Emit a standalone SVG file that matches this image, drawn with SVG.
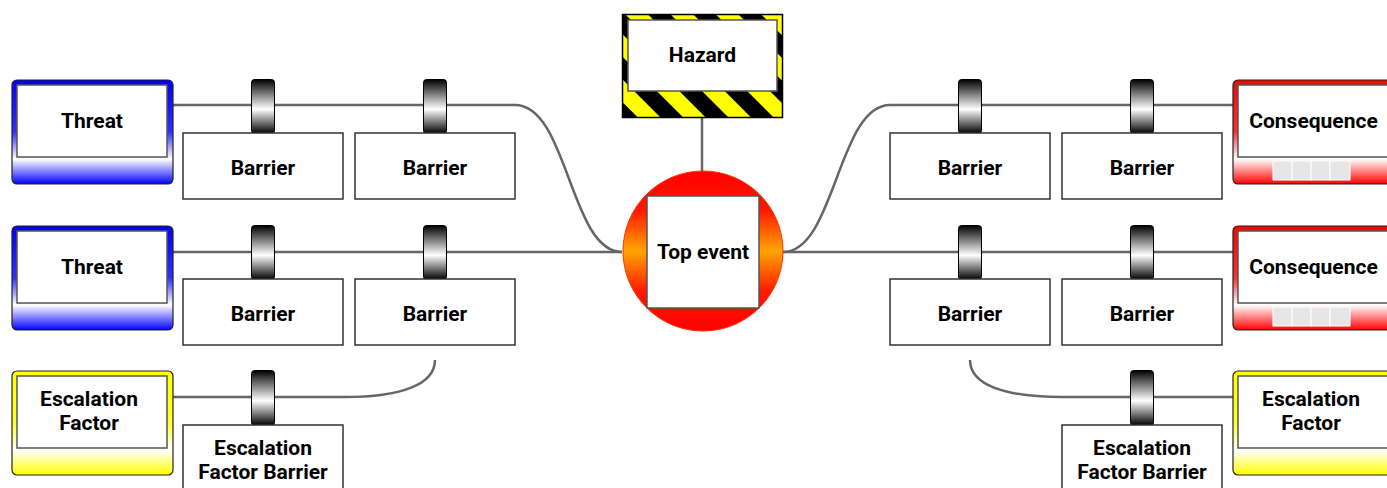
<svg xmlns="http://www.w3.org/2000/svg" width="1387" height="488" viewBox="0 0 1387 488">
<defs>
<linearGradient id="gBlue" x1="0" y1="0" x2="0" y2="1">
<stop offset="0" stop-color="#0000ff"/><stop offset="0.5" stop-color="#3030ff"/><stop offset="0.76" stop-color="#ffffff"/><stop offset="1" stop-color="#0000ff"/>
</linearGradient>
<linearGradient id="gRed" x1="0" y1="0" x2="0" y2="1">
<stop offset="0" stop-color="#ff0000"/><stop offset="0.5" stop-color="#ff3030"/><stop offset="0.76" stop-color="#ffffff"/><stop offset="1" stop-color="#ff0000"/>
</linearGradient>
<linearGradient id="gYellow" x1="0" y1="0" x2="0" y2="1">
<stop offset="0" stop-color="#ffff00"/><stop offset="0.5" stop-color="#ffff30"/><stop offset="0.76" stop-color="#ffffff"/><stop offset="1" stop-color="#ffff00"/>
</linearGradient>
<linearGradient id="gTop" x1="0" y1="0" x2="0" y2="1">
<stop offset="0" stop-color="#ff0000"/><stop offset="0.25" stop-color="#ff1a00"/><stop offset="0.5" stop-color="#ffa500"/><stop offset="0.75" stop-color="#ff1a00"/><stop offset="1" stop-color="#ff0000"/>
</linearGradient>
<linearGradient id="gKnob" x1="0" y1="0" x2="0" y2="1">
<stop offset="0" stop-color="#000000"/><stop offset="0.55" stop-color="#ffffff"/><stop offset="1" stop-color="#000000"/>
</linearGradient>
<pattern id="stripes" patternUnits="userSpaceOnUse" width="32" height="32" patternTransform="rotate(-45)">
<rect width="32" height="32" fill="#ffff00"/><rect width="16" height="32" fill="#000000"/>
</pattern>
<style>
.ln{fill:none;stroke:#666;stroke-width:2.5}
.box{fill:#fff;stroke:#333;stroke-width:1.5}
.inner{fill:#fff;stroke:#555;stroke-width:1.5}
.knob{fill:url(#gKnob);stroke:#000;stroke-width:1}
.t{font-family:Roboto,"Liberation Sans",sans-serif;font-weight:bold;font-size:21px;text-anchor:middle;fill:#000}
</style>
</defs>
<rect width="1387" height="488" fill="#fff"/>
<g id="connectors">
<path class="ln" d="M173 105 H515 C568 105 570 252 622 252"/>
<path class="ln" d="M173 252 H622"/>
<path class="ln" d="M173 397 H345 C400 397 435 385 435 360"/>
<path class="ln" d="M783 252 C835 252 838 105 890 105 H1233"/>
<path class="ln" d="M783 252 H1233"/>
<path class="ln" d="M970 360 C970 385 1005 397 1062 397 H1233"/>
<path class="ln" d="M702 118 V172"/>
</g>
<g id="hazard">
<rect x="622.5" y="14.5" width="160" height="103" fill="url(#stripes)" stroke="#000" stroke-width="1.5"/>
<rect x="628" y="20" width="149" height="71" class="inner"/>
<text class="t" x="702.5" y="62">Hazard</text>
</g>
<g id="topevent">
<circle cx="703" cy="251" r="80" fill="url(#gTop)" stroke="#ff3300" stroke-width="1"/>
<rect x="647" y="196" width="112" height="112" class="inner"/>
<text class="t" x="703" y="258.5">Top event</text>
</g>
<g id="threat1">
<rect x="12" y="80" width="161" height="104" rx="5" fill="url(#gBlue)" stroke="#222" stroke-width="1.2"/>
<rect x="17" y="85" width="150" height="72" class="inner"/>
<text class="t" x="92" y="127.5">Threat</text>
</g>
<g id="threat2">
<rect x="12" y="226" width="161" height="104" rx="5" fill="url(#gBlue)" stroke="#222" stroke-width="1.2"/>
<rect x="17" y="231" width="150" height="72" class="inner"/>
<text class="t" x="92" y="273.5">Threat</text>
</g>
<g id="escalation1">
<rect x="12" y="371" width="161" height="104" rx="5" fill="url(#gYellow)" stroke="#222" stroke-width="1.2"/>
<rect x="17" y="376" width="150" height="72" class="inner"/>
<text class="t" x="89" y="406">Escalation</text>
<text class="t" x="89" y="430">Factor</text>
</g>
<g id="consequence1">
<rect x="1233" y="80" width="170" height="104" rx="5" fill="url(#gRed)" stroke="#222" stroke-width="1.2"/>
<rect x="1238" y="85" width="160" height="72" class="inner"/>
<text class="t" x="1313.5" y="127.5">Consequence</text>
<g fill="#e6e6e6" stroke="#fff" stroke-width="1"><rect x="1273" y="161" width="19" height="19"/><rect x="1292" y="161" width="19" height="19"/><rect x="1311" y="161" width="19" height="19"/><rect x="1330" y="161" width="20" height="19"/></g>
</g>
<g id="consequence2">
<rect x="1233" y="226" width="170" height="104" rx="5" fill="url(#gRed)" stroke="#222" stroke-width="1.2"/>
<rect x="1238" y="231" width="160" height="72" class="inner"/>
<text class="t" x="1313.5" y="273.5">Consequence</text>
<g fill="#e6e6e6" stroke="#fff" stroke-width="1"><rect x="1273" y="307" width="19" height="19"/><rect x="1292" y="307" width="19" height="19"/><rect x="1311" y="307" width="19" height="19"/><rect x="1330" y="307" width="20" height="19"/></g>
</g>
<g id="escalation2">
<rect x="1233" y="371" width="170" height="104" rx="5" fill="url(#gYellow)" stroke="#222" stroke-width="1.2"/>
<rect x="1238" y="376" width="160" height="72" class="inner"/>
<text class="t" x="1311" y="406">Escalation</text>
<text class="t" x="1311" y="430">Factor</text>
</g>
<g id="barrierL1a"><rect class="knob" x="251.5" y="79.5" width="23" height="54" rx="3"/><rect class="box" x="183" y="133" width="160" height="66"/><text class="t" x="263" y="175">Barrier</text></g>
<g id="barrierL1b"><rect class="knob" x="423.5" y="79.5" width="23" height="54" rx="3"/><rect class="box" x="355" y="133" width="160" height="66"/><text class="t" x="435" y="175">Barrier</text></g>
<g id="barrierL2a"><rect class="knob" x="251.5" y="225.5" width="23" height="54" rx="3"/><rect class="box" x="183" y="279" width="160" height="66"/><text class="t" x="263" y="321">Barrier</text></g>
<g id="barrierL2b"><rect class="knob" x="423.5" y="225.5" width="23" height="54" rx="3"/><rect class="box" x="355" y="279" width="160" height="66"/><text class="t" x="435" y="321">Barrier</text></g>
<g id="barrierL3"><rect class="knob" x="251.5" y="370.5" width="23" height="55" rx="3"/><rect class="box" x="183" y="425" width="160" height="70"/><text class="t" x="263" y="455">Escalation</text><text class="t" x="263" y="479">Factor Barrier</text></g>
<g id="barrierR1a"><rect class="knob" x="958.5" y="79.5" width="23" height="54" rx="3"/><rect class="box" x="890" y="133" width="160" height="66"/><text class="t" x="970" y="175">Barrier</text></g>
<g id="barrierR1b"><rect class="knob" x="1130.5" y="79.5" width="23" height="54" rx="3"/><rect class="box" x="1062" y="133" width="160" height="66"/><text class="t" x="1142" y="175">Barrier</text></g>
<g id="barrierR2a"><rect class="knob" x="958.5" y="225.5" width="23" height="54" rx="3"/><rect class="box" x="890" y="279" width="160" height="66"/><text class="t" x="970" y="321">Barrier</text></g>
<g id="barrierR2b"><rect class="knob" x="1130.5" y="225.5" width="23" height="54" rx="3"/><rect class="box" x="1062" y="279" width="160" height="66"/><text class="t" x="1142" y="321">Barrier</text></g>
<g id="barrierR3"><rect class="knob" x="1130.5" y="370.5" width="23" height="55" rx="3"/><rect class="box" x="1062" y="425" width="160" height="70"/><text class="t" x="1142" y="455">Escalation</text><text class="t" x="1142" y="479">Factor Barrier</text></g>
</svg>
